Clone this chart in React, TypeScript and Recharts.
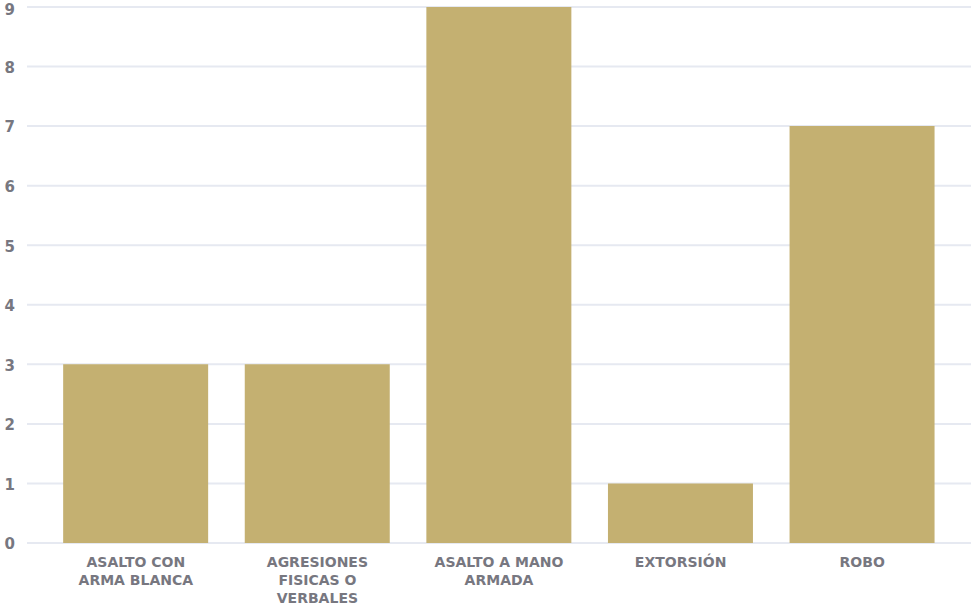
import { BarChart, Bar, XAxis, YAxis, CartesianGrid } from 'recharts';

const categories = [
  'ASALTO CON\nARMA BLANCA',
  'AGRESIONES\nFISICAS O\nVERBALES',
  'ASALTO A MANO\nARMADA',
  'EXTORSIÓN',
  'ROBO',
];
const counts = [3, 3, 9, 1, 7];
const yTicks = [0, 1, 2, 3, 4, 5, 6, 7, 8, 9];

const data = categories.map((name, i) => ({ name, value: counts[i] }));

const labelColor = '#777780';
const labelFont = '"DejaVu Sans", sans-serif';

function CategoryTick(props: any) {
  const { x, y, payload } = props;
  const lines = String(payload.value).split('\n');
  return (
    <g transform={`translate(${x},${y})`}>
      <text
        textAnchor="middle"
        fill={labelColor}
        fontSize={14}
        fontWeight={700}
        fontFamily={labelFont}
      >
        {lines.map((line, i) => (
          <tspan key={i} x={0} y={i * 18 + 16}>
            {line}
          </tspan>
        ))}
      </text>
    </g>
  );
}

export default function App() {
  return (
    <div style={{ position: 'absolute', left: 0, top: 0, background: '#fff' }}>
      <BarChart
        width={973}
        height={607}
        data={data}
        margin={{ top: 7, right: 2, bottom: 0, left: 0 }}
        barCategoryGap="10%"
      >
        <CartesianGrid vertical={false} stroke="#e6e9f1" strokeWidth={2} />
        <XAxis
          dataKey="name"
          interval={0}
          height={64}
          tickLine={false}
          axisLine={false}
          padding={{ left: 18, right: 18 }}
          tick={<CategoryTick />}
        />
        <YAxis
          width={27}
          domain={[0, 9]}
          ticks={yTicks}
          tickLine={false}
          axisLine={false}
          tickMargin={6}
          tick={{ fill: labelColor, fontSize: 15, fontWeight: 700, fontFamily: labelFont, dy: 1 }}
        />
        <Bar dataKey="value" fill="#c4b071" isAnimationActive={false} />
      </BarChart>
    </div>
  );
}
